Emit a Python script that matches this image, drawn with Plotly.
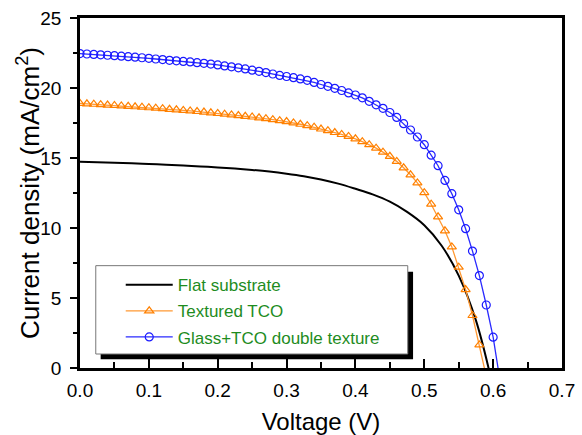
import plotly.graph_objects as go

# ---------------- data ----------------
flat_v = [0.0, 0.025, 0.05, 0.075, 0.10, 0.125, 0.15, 0.175, 0.20, 0.225, 0.25, 0.275,
          0.30, 0.325, 0.35, 0.375, 0.40, 0.425, 0.45, 0.475, 0.50, 0.525, 0.55, 0.575, 0.60]
flat_j = [14.74, 14.70, 14.66, 14.62, 14.57, 14.52, 14.46, 14.40, 14.33, 14.25, 14.15, 14.03,
          13.88, 13.70, 13.47, 13.17, 12.80, 12.40, 11.88, 11.15, 10.20, 8.75, 6.60, 3.40, -1.40]

tco_v = [round(i * 0.01, 2) for i in range(60)]
tco_j = [18.9, 18.87, 18.84, 18.81, 18.78, 18.75, 18.72, 18.69, 18.66, 18.63,
         18.59, 18.56, 18.52, 18.48, 18.44, 18.40, 18.36, 18.32, 18.28, 18.23,
         18.18, 18.13, 18.08, 18.03, 17.98, 17.93, 17.87, 17.81, 17.74, 17.67,
         17.60, 17.51, 17.41, 17.31, 17.20, 17.07, 16.95, 16.82, 16.68, 16.54,
         16.37, 16.17, 15.95, 15.70, 15.42, 15.12, 14.76, 14.30, 13.80, 13.22,
         12.52, 11.70, 10.80, 9.80, 8.65, 7.20, 5.60, 3.75, 1.65, -0.60]

dbl_v = [round(i * 0.01, 2) for i in range(62)]
dbl_j = [22.46, 22.43, 22.40, 22.37, 22.34, 22.31, 22.27, 22.24, 22.20, 22.16,
         22.12, 22.07, 22.03, 21.98, 21.94, 21.90, 21.86, 21.81, 21.76, 21.71,
         21.65, 21.58, 21.51, 21.44, 21.36, 21.27, 21.19, 21.10, 21.00, 20.90,
         20.82, 20.74, 20.65, 20.55, 20.40, 20.25, 20.12, 19.98, 19.82, 19.65,
         19.50, 19.30, 19.05, 18.80, 18.55, 18.25, 17.90, 17.45, 17.00, 16.50,
         15.95, 15.20, 14.45, 13.40, 12.45, 11.30, 9.95, 8.35, 6.60, 4.50,
         2.20, -0.90]

names = ["Flat substrate", "Textured TCO", "Glass+TCO double texture"]

x_range = [0, 0.7]
y_range = [0, 25]

# ---------------- figure ----------------
fig = go.Figure()

fig.add_trace(go.Scatter(
    x=flat_v, y=flat_j, name=names[0], mode="lines", legendgroup="a",
    line=dict(color="black", width=2, shape="spline", smoothing=1.0),
))
fig.add_trace(go.Scatter(
    x=tco_v, y=tco_j, name=names[1], mode="lines+markers", legendgroup="b",
    line=dict(color="#FF9933", width=1.3),
    marker=dict(symbol="triangle-up-open", size=8, color="#FF8000",
                line=dict(width=1.2, color="#FF8000")),
))
fig.add_trace(go.Scatter(
    x=dbl_v, y=dbl_j, name=names[2], mode="lines+markers", legendgroup="c",
    line=dict(color="#2A2AFF", width=1.3),
    marker=dict(symbol="circle-open", size=8, color="#1A1AFF",
                line=dict(width=1.2, color="#1A1AFF")),
))

# legend box with shadow
fig.add_shape(type="rect", xref="x", yref="y", x0=0.030, x1=0.4837, y0=0.62, y1=6.88,
              fillcolor="black", line=dict(width=0), layer="above")
fig.add_shape(type="rect", xref="x", yref="y", x0=0.0229, x1=0.476, y0=1.0, y1=7.31,
              fillcolor="white", line=dict(width=1, color="#777777"), layer="above")

font = "Arial, Liberation Sans, sans-serif"

# y-axis title as rotated text
fig.add_annotation(
    text="Current density (mA/cm<sup>2</sup>)", textangle=-90,
    xref="paper", yref="paper", x=-0.108, y=0.5, xanchor="center", yanchor="middle",
    showarrow=False, font=dict(size=26, family=font, color="black"),
)

fig.update_layout(
    width=582, height=435,
    margin=dict(l=80, r=20, t=18, b=67),
    paper_bgcolor="white", plot_bgcolor="white",
    font=dict(family=font, color="black"),
    showlegend=True,
    legend=dict(
        x=0.0845, y=0.288, xanchor="left", yanchor="top",
        bgcolor="rgba(0,0,0,0)", borderwidth=0,
        font=dict(size=17, color="#1E8C1E", family=font),
        itemwidth=47, tracegroupgap=1, traceorder="grouped",
    ),
    xaxis=dict(
        range=x_range, tickmode="linear", tick0=0, dtick=0.1, tickformat=".1f",
        ticks="inside", ticklen=9, tickwidth=2, tickcolor="black",
        minor=dict(ticks="inside", ticklen=6, tickwidth=2, tickcolor="black", dtick=0.05),
        showline=True, linewidth=2.5, linecolor="black", mirror=True,
        showgrid=False, zeroline=False, automargin=False,
        tickfont=dict(size=19, family=font),
        ticklabelstandoff=3,
        title=dict(text="Voltage (V)", font=dict(size=24, family=font), standoff=14),
    ),
    yaxis=dict(
        range=y_range, tickmode="linear", tick0=0, dtick=5,
        ticks="outside", ticklen=7, tickwidth=2, tickcolor="black",
        minor=dict(ticks="outside", ticklen=4, tickwidth=2, tickcolor="black", dtick=2.5),
        showline=True, linewidth=2.5, linecolor="black", mirror=True,
        showgrid=False, zeroline=False, automargin=False,
        tickfont=dict(size=19, family=font),
        ticklabelstandoff=5,
    ),
)

fig.write_html("out.html", config={"displayModeBar": False},
               post_script="document.body.style.margin='0';")
